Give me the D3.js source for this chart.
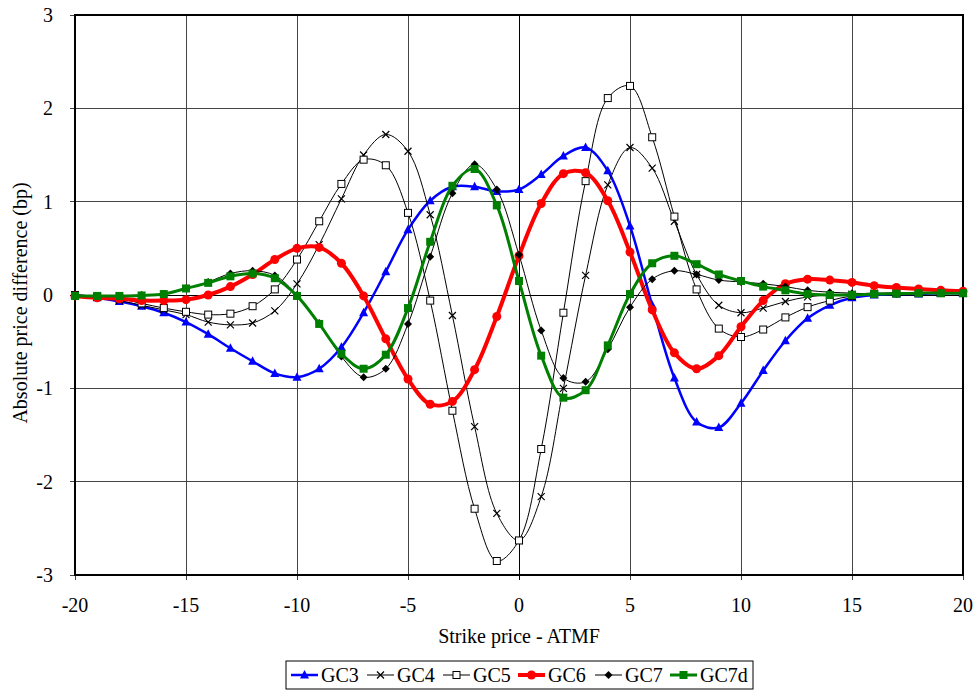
<!DOCTYPE html>
<html>
<head>
<meta charset="utf-8">
<title>GC price difference</title>
<script src="https://cdn.jsdelivr.net/npm/d3@7"></script>
<style>
  body { margin: 0; background: #fff; }
</style>
</head>
<body>
<svg id="chart" width="976" height="691"></svg>
<script>
// strike offsets -20..20
const strikes = [-20,-19,-18,-17,-16,-15,-14,-13,-12,-11,-10,-9,-8,-7,-6,-5,-4,-3,-2,-1,0,1,2,3,4,5,6,7,8,9,10,11,12,13,14,15,16,17,18,19,20];

const gc3 = [0,-0.03,-0.07,-0.12,-0.19,-0.29,-0.42,-0.57,-0.71,-0.84,-0.88,-0.79,-0.56,-0.19,0.25,0.7,1.01,1.16,1.16,1.11,1.13,1.29,1.49,1.58,1.33,0.74,-0.11,-0.89,-1.36,-1.42,-1.16,-0.81,-0.49,-0.25,-0.11,-0.03,0,0.01,0.01,0.02,0.02];
const gc4 = [0,-0.02,-0.06,-0.11,-0.16,-0.21,-0.29,-0.32,-0.3,-0.17,0.12,0.54,1.03,1.5,1.72,1.54,0.86,-0.22,-1.41,-2.34,-2.63,-2.16,-1.0,0.21,1.18,1.58,1.36,0.79,0.22,-0.11,-0.19,-0.14,-0.07,-0.02,0,0.01,0.02,0.02,0.02,0.02,0.02];
const gc5 = [0,-0.02,-0.04,-0.09,-0.14,-0.18,-0.21,-0.2,-0.12,0.06,0.38,0.79,1.19,1.45,1.39,0.88,-0.06,-1.24,-2.29,-2.85,-2.63,-1.65,-0.19,1.22,2.11,2.24,1.69,0.84,0.06,-0.36,-0.45,-0.37,-0.24,-0.13,-0.06,-0.01,0.01,0.02,0.02,0.02,0.02];
const gc6 = [-0.01,-0.03,-0.04,-0.06,-0.06,-0.05,0,0.09,0.22,0.38,0.5,0.51,0.34,-0.01,-0.47,-0.9,-1.17,-1.14,-0.8,-0.23,0.42,0.98,1.3,1.31,1.01,0.46,-0.16,-0.62,-0.79,-0.65,-0.34,-0.06,0.12,0.17,0.16,0.135,0.1,0.08,0.065,0.05,0.04];
const gc7 = [-0.01,-0.01,-0.01,0,0.01,0.07,0.14,0.23,0.26,0.21,0,-0.3,-0.66,-0.88,-0.79,-0.31,0.41,1.09,1.4,1.13,0.43,-0.38,-0.89,-0.93,-0.58,-0.13,0.17,0.26,0.22,0.16,0.14,0.12,0.09,0.05,0.03,0.02,0.01,0.01,0.02,0.02,0.02];
const gc7d = [-0.01,-0.01,-0.01,-0.005,0.01,0.07,0.13,0.2,0.23,0.18,-0.01,-0.31,-0.63,-0.79,-0.64,-0.14,0.57,1.17,1.35,0.96,0.15,-0.65,-1.1,-1.02,-0.54,0.01,0.34,0.42,0.33,0.22,0.15,0.09,0.05,0.01,0,0,0.01,0.015,0.02,0.02,0.02];

const xTicks = [-20,-15,-10,-5,0,5,10,15,20];
const yTicks = [-3,-2,-1,0,1,2,3];

const series = [
  { name: 'GC3', values: gc3, color: '#0000ff', width: 2.5, marker: 'triangle' },
  { name: 'GC4', values: gc4, color: '#000', width: 1, marker: 'cross' },
  { name: 'GC5', values: gc5, color: '#000', width: 1, marker: 'opensquare' },
  { name: 'GC6', values: gc6, color: '#ff0000', width: 4, marker: 'circle' },
  { name: 'GC7', values: gc7, color: '#000', width: 1, marker: 'diamond' },
  { name: 'GC7d', values: gc7d, color: '#008000', width: 3, marker: 'square' }
];

const FONT = "'Liberation Serif', 'DejaVu Serif', 'Times New Roman', serif";
const svg = d3.select('#chart').attr('font-family', FONT);
const plotL = 75, plotR = 963, plotT = 15, plotB = 575;

const x = d3.scaleLinear().domain([-20, 20]).range([plotL, plotR]);
const y = d3.scaleLinear().domain([-3, 3]).range([plotB, plotT]);

// grid
svg.append('g').selectAll('line').data(yTicks).join('line')
  .attr('x1', plotL - 5).attr('x2', plotR)
  .attr('y1', d => y(d)).attr('y2', d => y(d))
  .attr('stroke', d => d === 0 ? '#000' : '#444').attr('stroke-width', 1)
  .attr('shape-rendering', 'crispEdges');
svg.append('g').selectAll('line').data(xTicks).join('line')
  .attr('x1', d => x(d)).attr('x2', d => x(d))
  .attr('y1', plotT).attr('y2', plotB + 5)
  .attr('stroke', d => d === 0 ? '#000' : '#444').attr('stroke-width', 1)
  .attr('shape-rendering', 'crispEdges');
svg.append('rect')
  .attr('x', plotL).attr('y', plotT).attr('width', plotR - plotL).attr('height', plotB - plotT)
  .attr('fill', 'none').attr('stroke', '#000').attr('stroke-width', 1.5)
  .attr('shape-rendering', 'crispEdges');

// tick labels
svg.append('g').selectAll('text').data(yTicks).join('text')
  .attr('x', 53).attr('y', d => y(d)).attr('dy', '0.35em')
  .attr('text-anchor', 'end').attr('font-size', 20).style('font-family', FONT)
  .text(d => d);
svg.append('g').selectAll('text').data(xTicks).join('text')
  .attr('x', d => x(d)).attr('y', 612)
  .attr('text-anchor', 'middle').attr('font-size', 20).style('font-family', FONT)
  .text(d => d);

svg.append('text').attr('x', (plotL + plotR) / 2).attr('y', 643)
  .attr('text-anchor', 'middle').attr('font-size', 20).style('font-family', FONT)
  .text('Strike price - ATMF');
svg.append('text')
  .attr('transform', `translate(27, ${(plotT + plotB) / 2 + 8}) rotate(-90)`)
  .attr('text-anchor', 'middle').attr('font-size', 20).style('font-family', FONT)
  .text('Absolute price difference (bp)');

function drawMarker(g, type, color) {
  if (type === 'triangle') {
    g.append('path').attr('d', 'M0,-5L4.5,3.5L-4.5,3.5Z').attr('fill', color);
  } else if (type === 'cross') {
    g.append('path').attr('d', 'M-3.5,-3.5L3.5,3.5M-3.5,3.5L3.5,-3.5').attr('stroke', color).attr('stroke-width', 1.2);
  } else if (type === 'opensquare') {
    g.append('rect').attr('x', -3.5).attr('y', -3.5).attr('width', 7).attr('height', 7)
      .attr('fill', '#fff').attr('stroke', color).attr('stroke-width', 1);
  } else if (type === 'circle') {
    g.append('circle').attr('r', 4.5).attr('fill', color);
  } else if (type === 'diamond') {
    g.append('path').attr('d', 'M0,-4L4,0L0,4L-4,0Z').attr('fill', color);
  } else if (type === 'square') {
    g.append('rect').attr('x', -4).attr('y', -4).attr('width', 8).attr('height', 8).attr('fill', color);
  }
}

const line = d3.line()
  .x((d, i) => x(strikes[i]))
  .y(d => y(d))
  .curve(d3.curveCatmullRom.alpha(0.5));

series.forEach(s => {
  const g = svg.append('g');
  g.append('path').datum(s.values)
    .attr('d', line)
    .attr('fill', 'none').attr('stroke', s.color).attr('stroke-width', s.width);
  g.selectAll('g').data(s.values).join('g')
    .attr('transform', (d, i) => `translate(${x(strikes[i])},${y(d)})`)
    .each(function () { drawMarker(d3.select(this), s.marker, s.color); });
});

// legend
const legend = svg.append('g');
legend.append('rect').attr('x', 286).attr('y', 661).attr('width', 467).attr('height', 28)
  .attr('fill', '#fff').attr('stroke', '#000').attr('stroke-width', 1);
const legX = [291, 367, 443, 518, 595, 670];
series.forEach((s, i) => {
  const item = legend.append('g').attr('transform', `translate(${legX[i]},675)`);
  item.append('line').attr('x1', 0).attr('x2', 27).attr('y1', 0).attr('y2', 0)
    .attr('stroke', s.color).attr('stroke-width', s.width);
  drawMarker(item.append('g').attr('transform', 'translate(13.5,0)'), s.marker, s.color);
  item.append('text').attr('x', 30).attr('y', 0).attr('dy', '0.35em')
    .attr('font-size', 20).style('font-family', FONT).text(s.name);
});
</script>
</body>
</html>
